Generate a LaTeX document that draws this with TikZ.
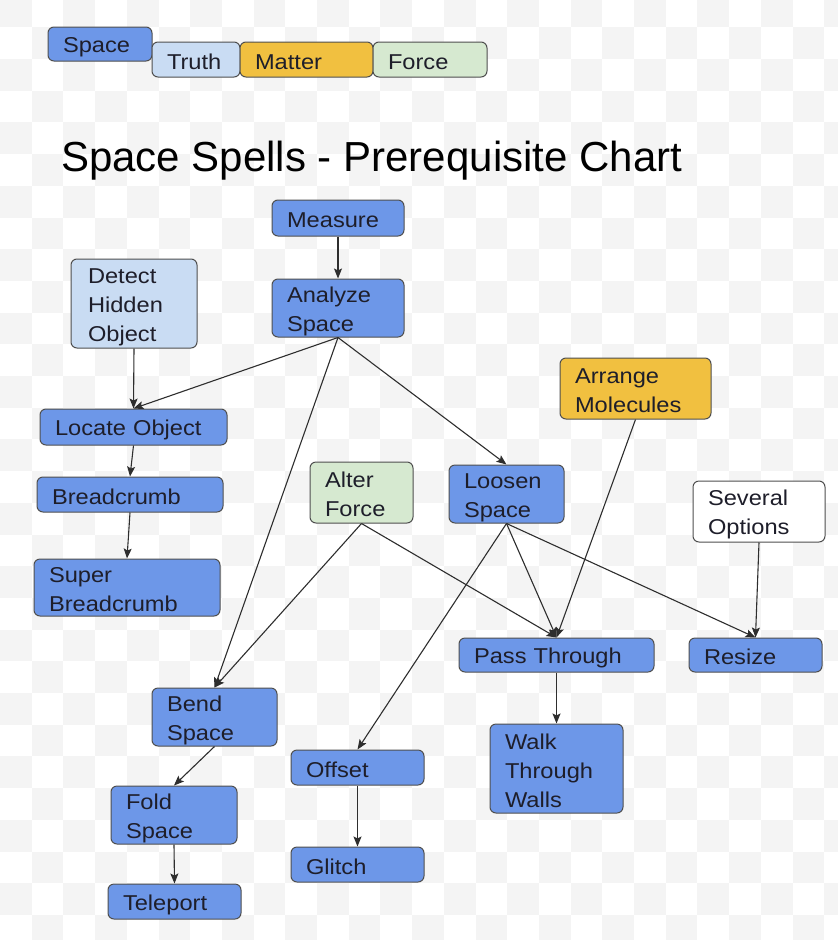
\documentclass[tikz,border=0pt]{standalone}
\usepackage{fontspec}
\setmainfont{Liberation Sans}
\newfontfamily\nodefont[FakeStretch=1.1]{Liberation Sans}
\usetikzlibrary{arrows.meta}
\definecolor{cblue}{HTML}{6D97E8}
\definecolor{clight}{HTML}{C9DCF3}
\definecolor{corange}{HTML}{F1C040}
\definecolor{cgreen}{HTML}{D6E9D0}
\definecolor{cborder}{HTML}{4F4F4F}
\definecolor{ctext}{HTML}{1E1E2A}
\definecolor{cline}{HTML}{2E2E2E}
\definecolor{cchk}{HTML}{F4F4F4}
\tikzset{
  bx/.style={draw=cborder, line width=1pt, rounded corners=6pt, inner xsep=15pt, inner ysep=0pt,
    align=left, text=ctext, font=\nodefont\fontsize{21.5}{29}\selectfont,
    execute at begin node={\rule[-3pt]{0pt}{25pt}},
    execute at end node={\rule[-3pt]{0pt}{25pt}}},
  conn/.style={draw=cline, line width=1.1pt, -{Stealth[length=10pt,width=8pt,inset=2pt]}}
}
\begin{document}
\begin{tikzpicture}[x=1pt,y=-1pt]
\useasboundingbox (0,0) rectangle (838,940);
\fill[white] (0,0) rectangle (838,940);
\begin{scope}
\clip (0,0) rectangle (838,940);
\foreach \i in {0,...,26}{
  \foreach \j in {0,...,30}{
    \pgfmathtruncatemacro{\chkpar}{mod(\i+\j,2)}
    \ifnum\chkpar=0
      \fill[cchk] ({\i*31.7},{27.3+(\j-1)*31.7}) rectangle ++(31.7,31.7);
    \fi
  }
}
\end{scope}
% legend
\node[bx, fill=cblue, minimum height=34pt, text width=74pt] (lspace) at (100,44) {Space};
\node[bx, fill=clight, minimum height=35pt, text width=58pt] (ltruth) at (196,59.5) {Truth};
\node[bx, fill=corange, minimum height=35pt, text width=103pt] (lmatter) at (306.5,59.5) {Matter};
\node[bx, fill=cgreen, minimum height=35pt, text width=84pt] (lforce) at (430,59.5) {Force};
% title
\node[anchor=base west, inner sep=0pt, font=\fontsize{42}{50}\selectfont, text=black] (title) at (61,171) {Space Spells - Prerequisite Chart};
% nodes
\node[bx, fill=cblue, minimum height=36pt, text width=102pt] (measure) at (338,218) {Measure};
\node[bx, fill=cblue, minimum height=58pt, text width=102pt] (analyze) at (338,308) {Analyze\\Space};
\node[bx, fill=clight, minimum height=89pt, text width=92pt, inner xsep=17pt] (detect) at (134,303.5) {Detect\\Hidden\\Object};
\node[bx, fill=cblue, minimum height=36pt, text width=157pt] (locate) at (133.5,427) {Locate Object};
\node[bx, fill=cblue, minimum height=35pt, text width=156pt] (bread) at (130,494.5) {Breadcrumb};
\node[bx, fill=cblue, minimum height=57pt, text width=156pt] (superb) at (127,587.5) {Super\\Breadcrumb};
\node[bx, fill=cgreen, minimum height=61pt, text width=73pt] (alter) at (361.5,492.5) {Alter\\Force};
\node[bx, fill=cblue, minimum height=58pt, text width=85pt] (loosen) at (506.5,494) {Loosen\\Space};
\node[bx, fill=corange, minimum height=61pt, text width=121pt] (arrange) at (635.5,388.5) {Arrange\\Molecules};
\node[bx, fill=white, minimum height=61pt, text width=102pt] (several) at (759,511.5) {Several\\Options};
\node[bx, fill=cblue, minimum height=34pt, text width=165pt] (pass) at (556.5,655) {Pass Through};
\node[bx, fill=cblue, minimum height=34pt, text width=103pt] (resize) at (755.5,655) {Resize};
\node[bx, fill=cblue, minimum height=89pt, text width=103pt] (walk) at (556.5,768.5) {Walk\\Through\\Walls};
\node[bx, fill=cblue, minimum height=58pt, text width=95pt] (bend) at (214.5,717) {Bend\\Space};
\node[bx, fill=cblue, minimum height=35pt, text width=103pt] (offset) at (357.5,767.5) {Offset};
\node[bx, fill=cblue, minimum height=35pt, text width=103pt] (glitch) at (357.5,864.5) {Glitch};
\node[bx, fill=cblue, minimum height=58pt, text width=96pt] (fold) at (174,815) {Fold\\Space};
\node[bx, fill=cblue, minimum height=35pt, text width=103pt] (teleport) at (174.5,901.5) {Teleport};
% connectors
\draw[conn] (measure.south) -- (analyze.north);
\draw[conn] (detect.south) -- (locate.north);
\draw[conn] (analyze.south) -- (locate.north);
\draw[conn] (analyze.south) -- (bend.north);
\draw[conn] (analyze.south) -- (loosen.north);
\draw[conn] (locate.south) -- (bread.north);
\draw[conn] (bread.south) -- (superb.north);
\draw[conn] (alter.south) -- (bend.north);
\draw[conn] (alter.south) -- (pass.north);
\draw[conn] (loosen.south) -- (pass.north);
\draw[conn] (loosen.south) -- (offset.north);
\draw[conn] (loosen.south) -- (resize.north);
\draw[conn] (arrange.south) -- (pass.north);
\draw[conn] (several.south) -- (resize.north);
\draw[conn] (pass.south) -- (walk.north);
\draw[conn] (bend.south) -- (fold.north);
\draw[conn] (fold.south) -- (teleport.north);
\draw[conn] (offset.south) -- (glitch.north);
\end{tikzpicture}
\end{document}
